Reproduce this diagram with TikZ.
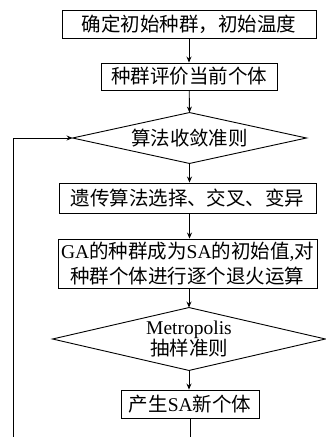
\documentclass[tikz,border=0pt]{standalone}
\usepackage{fontspec}
\setmainfont{Liberation Serif}
\newfontfamily\cjk{Noto Sans CJK SC}
\usetikzlibrary{arrows.meta}
\begin{document}
\begin{tikzpicture}[x=1pt,y=1pt,line width=0.9pt,
  box/.style={draw,rectangle,inner sep=0pt,align=center,
    font=\cjk\fontsize{19.5}{25}\selectfont},
  dbox/.style={rectangle,inner sep=0pt,align=center,
    font=\cjk\fontsize{19.5}{21}\selectfont},
  arr/.style={-{Stealth[length=6pt,width=5pt]}}]
\useasboundingbox (0,0) rectangle (326,-437);
\node[box,minimum width=254,minimum height=28] (b1) at (189,-24) {确定初始种群，初始温度};
\node[box,minimum width=176,minimum height=27] (b2) at (189,-76.5) {种群评价当前个体};
\node[dbox,minimum width=233,minimum height=50] (d1) at (189.5,-138) {算法收敛准则};
\draw (d1.north)--(d1.east)--(d1.south)--(d1.west)--cycle;
\node[box,minimum width=257,minimum height=30] (b3) at (187.5,-198) {遗传算法选择、交叉、变异};
\node[box,minimum width=259,minimum height=49] (b4) at (187.5,-263.5) {{\rmfamily GA}的种群成为{\rmfamily SA}的初始值{\rmfamily ,}对\\种群个体进行逐个退火运算};
\node[dbox,minimum width=272,minimum height=62] (d2) at (189,-339) {{\rmfamily Metropolis}\\抽样准则};
\draw (d2.north)--(d2.east)--(d2.south)--(d2.west)--cycle;
\node[box,minimum width=138,minimum height=28] (b5) at (190,-404) {产生{\rmfamily SA}新个体};
\coordinate (e1) at (190,-437);
\coordinate (e2) at (13,-437);
\coordinate (e3) at (13,-138);
\draw[arr] (b1) -- (b2);
\draw[arr] (b2) -- (d1.north);
\draw[arr] (d1.south) -- (d1.south |- b3.north);
\draw[arr] (b3.south -| d1.south) -- (d1.south |- b4.north);
\draw[arr] (b4.south -| d2.north) -- (d2.north);
\draw[arr] (d2.south) -- (d2.south |- b5.north);
\draw (b5.south -| e1) -- (e1);
\draw[arr] (e2) -- (e3) -- (d1.west);
\end{tikzpicture}
\end{document}
